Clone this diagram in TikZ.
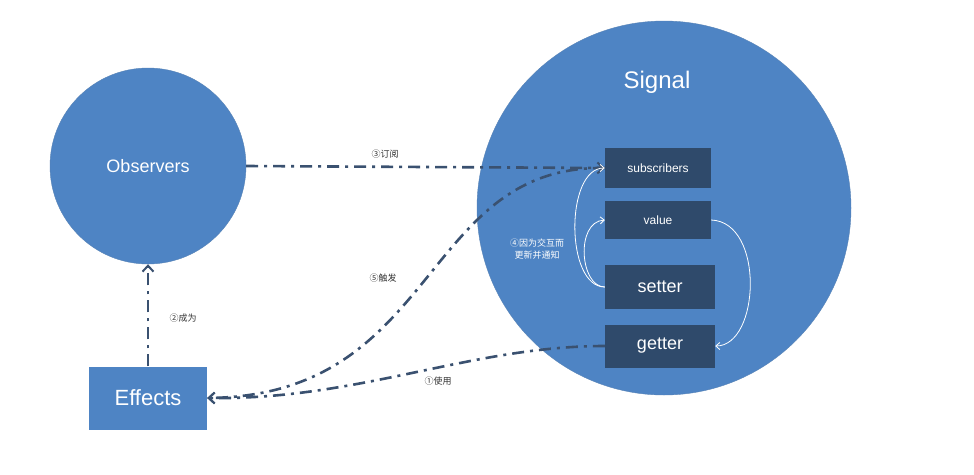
\documentclass[tikz,border=0pt]{standalone}
\usepackage{fontspec}
\setmainfont{Liberation Sans}
\newfontfamily\cjk{Noto Sans CJK SC}
\usetikzlibrary{arrows.meta}
\definecolor{cblue}{HTML}{4E84C4}
\definecolor{cbox}{HTML}{2F4A6B}
\definecolor{cline}{HTML}{3A5170}
\begin{document}
\begin{tikzpicture}[x=1pt,y=-1pt,
  circ/.style={circle,fill=cblue,draw=cblue!80!gray,inner sep=0},
  box/.style={fill=cbox,text=white,inner sep=0,minimum width=106pt},
  conn/.style={cline,line width=2.6pt,dash pattern=on 12pt off 6pt on 3pt off 6pt,-{Straight Barb[length=6pt,width=11pt,line width=2pt]}},
  wl/.style={white,line width=0.8pt,-{Straight Barb[length=4pt,width=7pt]}},
  lbl/.style={font=\cjk\fontsize{9}{11}\selectfont,text=black!80}]
\useasboundingbox (0,0) rectangle (974,474);
\node[circ,minimum size=374pt] (sig) at (664,208) {};
\node[text=white,font=\fontsize{24}{28}\selectfont] (sigt) at (657,82) {Signal};
\node[circ,minimum size=196pt] (obs) at (148,166) {};
\node[text=white,font=\fontsize{18}{22}\selectfont] (obst) at (148,166) {Observers};
\node[fill=cblue,text=white,minimum width=118pt,minimum height=63pt,font=\fontsize{22}{26}\selectfont] (eff) at (148,398) {Effects};
\node[box,minimum height=40pt,font=\fontsize{12}{14}\selectfont] (sub) at (658,168) {subscribers};
\node[box,minimum height=38pt,font=\fontsize{12}{14}\selectfont] (val) at (658,220) {value};
\node[box,minimum width=110pt,minimum height=44pt,font=\fontsize{18}{22}\selectfont] (set) at (660,287) {setter};
\node[box,minimum width=110pt,minimum height=43pt,font=\fontsize{18}{22}\selectfont] (get) at (660,346) {getter};
\draw[conn] (get.west) .. controls (470,346) and (360,400) .. (eff.east);
\draw[conn] (eff.north) -- (obs.south);
\draw[conn] (obs.east) -- (sub.west);
\draw[conn] (sub.west) .. controls (420,165) and (440,395) .. (eff.east);
\draw[wl] (set.west) .. controls (580,287) and (575,222) .. (val.west);
\draw[wl] (set.west) .. controls (565,287) and (565,168) .. (sub.west);
\draw[wl] (val.east) .. controls (765,222) and (760,346) .. (get.east);
\node[lbl] (l3) at (385,154) {③订阅};
\node[lbl] (l2) at (183,318) {②成为};
\node[lbl] (l5) at (383,278) {⑤触发};
\node[lbl] (l1) at (438,381) {①使用};
\node[lbl,text=white,align=center,font=\cjk\fontsize{9}{12}\selectfont] (l4) at (537,249) {④因为交互而\\更新并通知};
\end{tikzpicture}
\end{document}
